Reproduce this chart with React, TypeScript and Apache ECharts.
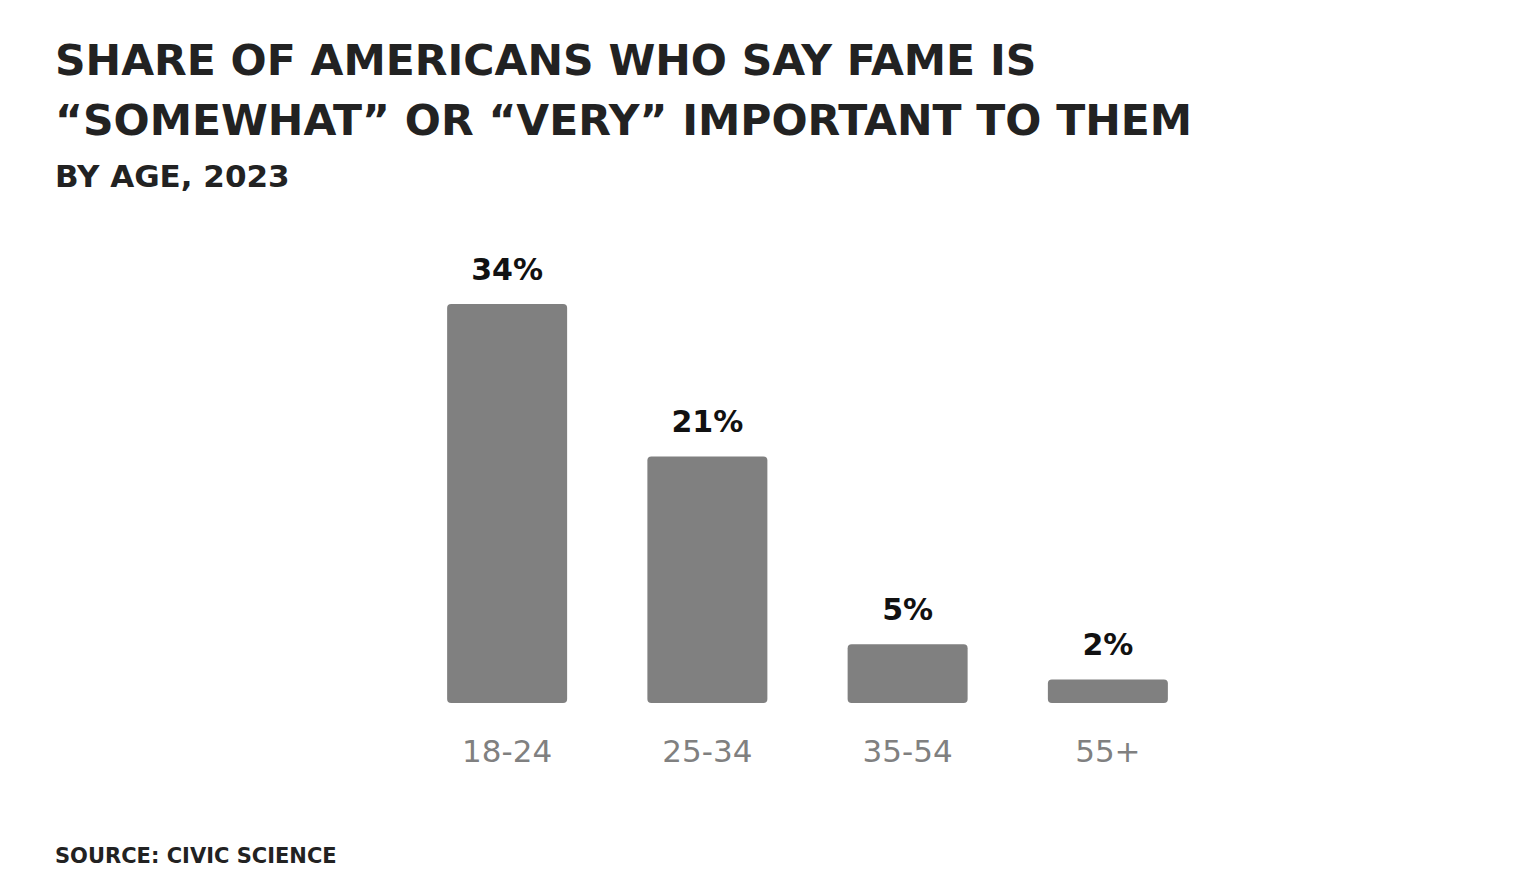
import React, { useEffect, useRef } from "react";
import * as echarts from "echarts";

const categories = ["18-24", "25-34", "35-54", "55+"];
const values = [34, 21, 5, 2];
const titleLines = ["SHARE OF AMERICANS WHO SAY FAME IS", "“SOMEWHAT” OR “VERY” IMPORTANT TO THEM"];
const subtitleText = "BY AGE, 2023";
const sourceText = "SOURCE: CIVIC SCIENCE";

const FONT = "'DejaVu Sans', sans-serif";

export default function App() {
  const ref = useRef<HTMLDivElement>(null);
  useEffect(() => {
    if (!ref.current) return;
    const chart = echarts.init(ref.current, undefined, { renderer: "svg" });
    chart.setOption({
      animation: false,
      backgroundColor: "#ffffff",
      textStyle: { fontFamily: FONT },
      title: [
        {
          text: titleLines.join("\n"),
          left: 42,
          top: 17,
          textStyle: { fontFamily: FONT, fontSize: 42.5, fontWeight: "bold", color: "#222222", lineHeight: 60 },
        },
        {
          text: subtitleText,
          left: 42,
          top: 147,
          textStyle: { fontFamily: FONT, fontSize: 31, fontWeight: "bold", color: "#222222" },
        },
        {
          text: sourceText,
          left: 42,
          top: 832,
          textStyle: { fontFamily: FONT, fontSize: 21, fontWeight: "bold", color: "#222222" },
        },
      ],
      grid: { left: 399, right: 1536 - 8 - 1208, top: 304 - 8, bottom: 896 - 8 - 703, containLabel: false },
      xAxis: {
        type: "category",
        data: categories,
        axisLine: { show: false },
        axisTick: { show: false },
        axisLabel: { fontFamily: FONT, fontSize: 31, color: "#808080", margin: 32 },
      },
      yAxis: {
        type: "value",
        min: 0,
        max: 34,
        show: false,
        splitLine: { show: false },
      },
      series: [
        {
          type: "bar",
          data: values,
          barWidth: 120,
          itemStyle: { color: "#808080", borderRadius: 4 },
          label: {
            show: true,
            position: "top",
            distance: 20,
            formatter: "{c}%",
            fontFamily: FONT,
            fontSize: 30,
            fontWeight: "bold",
            color: "#111111",
          },
        },
      ],
    });
    return () => chart.dispose();
  }, []);
  return <div ref={ref} style={{ width: 1520, height: 880 }} />;
}
